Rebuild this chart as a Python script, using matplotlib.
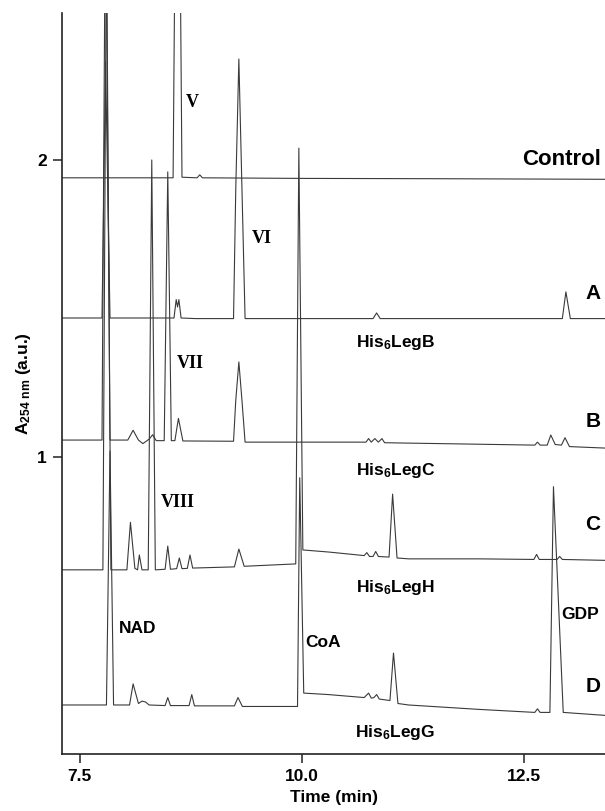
import matplotlib
matplotlib.use("Agg")
import matplotlib.pyplot as plt

# HPLC traces (time in min, absorbance at 254 nm, offset per trace as in the figure)
control_t = [7.30, 8.55, 8.60, 8.65, 8.82, 8.85, 8.88, 10.0, 11.5, 13.41]
control_a = [1.940, 1.940, 3.80, 1.942, 1.940, 1.950, 1.940, 1.938, 1.937, 1.935]

a_t = [7.30, 7.75, 7.79, 7.84, 8.56, 8.585, 8.60, 8.615, 8.64, 8.80, 9.23, 9.255, 9.29, 9.325, 9.36,
       10.80, 10.84, 10.88, 12.93, 12.97, 13.02, 13.41]
a_a = [1.468, 1.468, 2.33, 1.468, 1.468, 1.53, 1.505, 1.53, 1.468, 1.466, 1.466, 1.90, 2.34, 1.90, 1.466,
       1.466, 1.485, 1.466, 1.466, 1.556, 1.466, 1.466]

b_t = [7.30, 7.75, 7.79, 7.84, 8.04, 8.10, 8.16, 8.21, 8.28, 8.32, 8.36, 8.45, 8.49, 8.53,
       8.57, 8.61, 8.66, 9.23, 9.255, 9.29, 9.325, 9.36, 10.72, 10.75, 10.78, 10.82, 10.86, 10.90, 10.93,
       12.62, 12.65, 12.68, 12.76, 12.80, 12.85, 12.92, 12.96, 13.01, 13.41]
b_a = [1.057, 1.057, 3.0, 1.057, 1.057, 1.09, 1.057, 1.045, 1.06, 1.075, 1.055, 1.055, 1.96, 1.055,
       1.055, 1.13, 1.054, 1.053, 1.19, 1.32, 1.19, 1.05, 1.05, 1.062, 1.05, 1.062, 1.05, 1.062, 1.048,
       1.04, 1.05, 1.04, 1.04, 1.074, 1.042, 1.04, 1.065, 1.035, 1.03]

c_t = [7.30, 7.76, 7.80, 7.85, 8.03, 8.07, 8.12, 8.15, 8.17, 8.20, 8.27, 8.31, 8.35, 8.46,
       8.49, 8.52, 8.59, 8.62, 8.65, 8.71, 8.74, 8.77, 9.24, 9.29, 9.35, 9.93, 9.965, 10.01,
       10.3, 10.70, 10.73, 10.76, 10.80, 10.83, 10.86, 10.98, 11.02, 11.07, 11.2, 12.0,
       12.61, 12.64, 12.67, 12.87, 12.90, 12.93, 13.41]
c_a = [0.62, 0.62, 2.8, 0.62, 0.62, 0.78, 0.625, 0.62, 0.67, 0.62, 0.62, 2.0, 0.62, 0.622,
       0.70, 0.622, 0.624, 0.66, 0.624, 0.625, 0.67, 0.626, 0.63, 0.69, 0.632, 0.64, 2.04, 0.687,
       0.68, 0.668, 0.678, 0.665, 0.665, 0.682, 0.665, 0.663, 0.875, 0.66, 0.657, 0.657,
       0.655, 0.672, 0.655, 0.655, 0.665, 0.655, 0.652]

d_t = [7.30, 7.80, 7.84, 7.88, 8.06, 8.10, 8.16, 8.20, 8.24, 8.28, 8.46, 8.49, 8.52, 8.73,
       8.76, 8.79, 9.24, 9.28, 9.33, 9.95, 9.975, 10.02, 10.3, 10.70, 10.75, 10.78, 10.81,
       10.84, 10.87, 10.99, 11.03, 11.08, 11.2, 12.0, 12.62, 12.65, 12.68, 12.79, 12.83,
       12.94, 13.41]
d_a = [0.165, 0.165, 1.02, 0.165, 0.165, 0.236, 0.17, 0.178, 0.175, 0.165, 0.163, 0.19, 0.163,
       0.163, 0.20, 0.162, 0.162, 0.19, 0.16, 0.16, 0.93, 0.205, 0.2, 0.19, 0.205, 0.188,
       0.19, 0.2, 0.185, 0.18, 0.34, 0.17, 0.165, 0.15, 0.14, 0.152, 0.14, 0.14, 0.90,
       0.14, 0.13]

traces = [(control_t, control_a), (a_t, a_a), (b_t, b_a), (c_t, c_a), (d_t, d_a)]

# labels
trace_names = ['Control', 'A', 'B', 'C', 'D']
trace_name_y = [2.0, 1.552, 1.118, 0.774, 0.226]
enzymes = ['His$_{\\mathbf{6}}$LegB', 'His$_{\\mathbf{6}}$LegC',
           'His$_{\\mathbf{6}}$LegH', 'His$_{\\mathbf{6}}$LegG']
enzyme_y = [1.384, 0.956, 0.559, 0.074]
roman = ['V', 'VI', 'VII', 'VIII']
roman_xy = [(8.77, 2.195), (9.55, 1.734), (8.74, 1.316), (8.60, 0.848)]
cofactors = ['NAD', 'CoA', 'GDP']
cofactor_xy = [(8.15, 0.424), (10.24, 0.377), (13.13, 0.471)]

plt.rcParams['font.family'] = ['Liberation Sans', 'DejaVu Sans']
plt.rcParams['mathtext.fontset'] = 'custom'
plt.rcParams['mathtext.rm'] = 'Liberation Sans:bold'
plt.rcParams['mathtext.it'] = 'Liberation Sans:bold'
plt.rcParams['mathtext.bf'] = 'Liberation Sans:bold'

fig = plt.figure(figsize=(6.05, 8.11), dpi=100)
ax = fig.add_axes([0.1025, 0.0703, 0.8975, 0.9137])

for t, a in traces:
    ax.plot(t, a, color='#3a3a3a', lw=0.8)

ax.set_xlim(7.30, 13.41)
ax.set_ylim(0, 2.495)
ax.set_xticks([7.5, 10.0, 12.5])
ax.set_xticklabels(['7.5', '10.0', '12.5'])
ax.set_yticks([1, 2])
ax.set_yticklabels(['1', '2'])
for s in ['top', 'right']:
    ax.spines[s].set_visible(False)
for s in ['left', 'bottom']:
    ax.spines[s].set_linewidth(1.2)
    ax.spines[s].set_color('#222222')
ax.tick_params(length=6.5, width=1.1, pad=4.5, labelsize=12.5, color='#222222')
for lab in ax.get_xticklabels() + ax.get_yticklabels():
    lab.set_fontweight('bold')

ax.set_xlabel('Time (min)', fontsize=12.5, fontweight='bold', labelpad=4)
ax.set_ylabel('A$_{\\mathrm{254\\ nm}}$ (a.u.)', fontsize=12.5, fontweight='bold', labelpad=3)

for name, y in zip(trace_names, trace_name_y):
    ax.text(13.36, y, name, ha='right', va='center', fontsize=16 if name == 'Control' else 15,
            fontweight='bold')
for name, y in zip(enzymes, enzyme_y):
    ax.text(11.05, y, name, ha='center', va='center', fontsize=12.5, fontweight='bold')
for name, (x, y) in zip(roman, roman_xy):
    ax.text(x, y, name, ha='center', va='center', fontsize=13, fontweight='bold',
            family='Liberation Serif')
for name, (x, y) in zip(cofactors, cofactor_xy):
    ax.text(x, y, name, ha='center', va='center', fontsize=12.5, fontweight='bold')

fig.savefig('out.png', dpi=100)
